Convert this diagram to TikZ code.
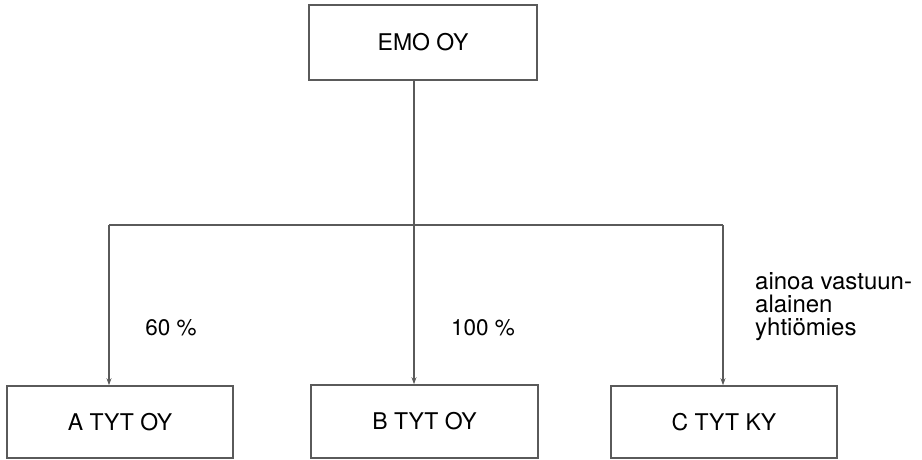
\documentclass[tikz,border=0pt]{standalone}
\usepackage{fontspec}
\setmainfont{TeX Gyre Heros}
\usetikzlibrary{arrows.meta}
\definecolor{linecol}{RGB}{90,90,90}
\tikzset{
  box/.style={draw=linecol, line width=1.6pt, fill=white, inner sep=0pt,
    font=\fontsize{23}{25}\selectfont},
  conn/.style={draw=linecol, line width=1.6pt},
  arr/.style={conn, -{Stealth[length=7pt,width=5pt]}},
  lbl/.style={font=\fontsize{22.5}{24}\selectfont, inner sep=0pt}
}
\begin{document}
\begin{tikzpicture}[x=1pt,y=-1pt]
\useasboundingbox (0,0) rectangle (922,459);
\node[box, minimum width=228pt, minimum height=75pt] (top) at (423,42.5) {EMO OY};
\node[box, minimum width=226pt, minimum height=72pt] (A) at (120,422) {A TYT OY};
\node[box, minimum width=227pt, minimum height=73pt] (B) at (424.5,421.5) {B TYT OY};
\node[box, minimum width=226pt, minimum height=72pt] (C) at (724,422) {C TYT KY};
\coordinate (hl) at (109,225);
\coordinate (hm) at (414,225);
\coordinate (hr) at (723,225);
\draw[conn] (top.south -| hm) -- (hm);
\draw[conn] (hl) -- (hr);
\draw[arr] (hl) -- (hl |- A.north);
\draw[arr] (hm) -- (hm |- B.north);
\draw[arr] (hr) -- (hr |- C.north);
\node[lbl] (p60) at (171,328) {60 \%};
\node[lbl] (p100) at (483,328) {100 \%};
\node[lbl, anchor=north west, align=left, font=\fontsize{24}{23}\selectfont] (note) at (755,272) {ainoa vastuun-\\alainen\\yhtiömies};
\end{tikzpicture}
\end{document}
